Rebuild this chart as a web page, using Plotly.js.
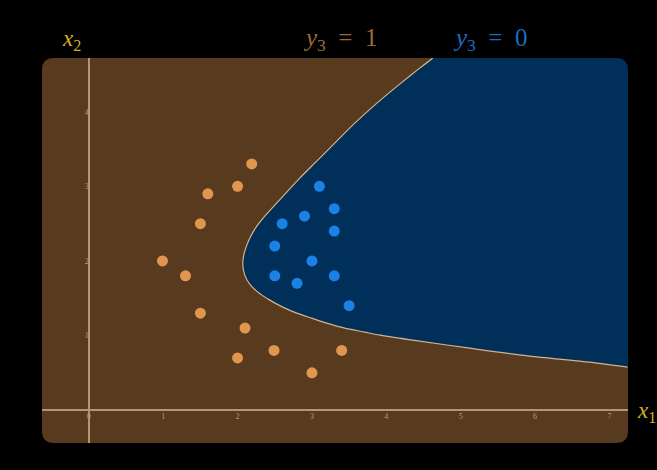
<!DOCTYPE html>
<html>
<head>
<meta charset="utf-8">
<script src="https://cdn.plot.ly/plotly-3.0.1.min.js"></script>
<style>html,body{margin:0;padding:0;background:#000;}#chart{width:657px;height:470px;}</style>
</head>
<body>
<div id="chart"></div>
<script>
// class y3 = 1 (orange)
const x1_class1 = [2.19, 2.00, 1.60, 1.50, 0.99, 1.30, 1.50, 2.10, 2.49, 2.00, 3.40, 3.00];
const x2_class1 = [3.30, 3.00, 2.90, 2.50, 2.00, 1.80, 1.30, 1.10, 0.80, 0.70, 0.80, 0.50];
// class y3 = 0 (blue)
const x1_class0 = [3.10, 3.30, 2.90, 2.60, 3.30, 2.50, 3.00, 2.50, 2.80, 3.30, 3.50];
const x2_class0 = [3.00, 2.70, 2.60, 2.50, 2.40, 2.20, 2.00, 1.80, 1.70, 1.80, 1.40];
// decision boundary
const bx = [4.624, 4.449, 4.180, 3.858, 3.562, 3.293, 3.051, 2.836, 2.661, 2.500, 2.366, 2.258, 2.177, 2.124, 2.083, 2.070,
            2.097, 2.164, 2.272, 2.433, 2.608, 2.796, 2.997, 3.199, 3.441, 3.710, 3.911, 4.449, 5.121, 5.927, 6.734, 7.245];
const by = [4.718, 4.584, 4.370, 4.102, 3.834, 3.566, 3.324, 3.110, 2.922, 2.748, 2.601, 2.466, 2.332, 2.212, 2.078, 1.944,
            1.810, 1.689, 1.582, 1.475, 1.381, 1.300, 1.233, 1.166, 1.099, 1.046, 1.005, 0.925, 0.831, 0.724, 0.643, 0.576];
const xTicks = [0, 1, 2, 3, 4, 5, 6, 7];
const yTicks = [1, 2, 3, 4];

const xr = [-0.63, 7.25], yr = [-0.44, 4.72];

const fillX = [4.75].concat(bx, [7.40, 7.40]);
const fillY = [4.85].concat(by, [0.56, 4.85]);

const traces = [
  {x: fillX, y: fillY, mode: 'lines', fill: 'toself', fillcolor: '#00305a',
   line: {width: 0, shape: 'spline', smoothing: 0.6}, hoverinfo: 'skip', showlegend: false},
  {x: bx, y: by, mode: 'lines', line: {color: '#d2b48c', width: 1.2, shape: 'spline', smoothing: 0.6},
   hoverinfo: 'skip', showlegend: false},
  {x: x1_class1, y: x2_class1, mode: 'markers', marker: {color: '#e0964f', size: 11},
   showlegend: false},
  {x: x1_class0, y: x2_class0, mode: 'markers', marker: {color: '#1a82e6', size: 11},
   showlegend: false}
];

const rx = 12/586, ry = 12/385;
const rr = `M ${rx},0 L ${1-rx},0 Q 1,0 1,${ry} L 1,${1-ry} Q 1,1 ${1-rx},1 L ${rx},1 Q 0,1 0,${1-ry} L 0,${ry} Q 0,0 ${rx},0 Z`;
const corner = `M 1,${1-ry} Q 1,1 ${1-rx},1 L 1.01,1.01 L 1.01,${1-ry} Z`;

const tickFont = {family: 'Liberation Serif', size: 8, color: '#b89a70'};
const layout = {
  width: 657, height: 470,
  margin: {l: 42, r: 29, t: 58, b: 27},
  paper_bgcolor: '#000', plot_bgcolor: 'rgba(0,0,0,0)',
  xaxis: {range: xr, showgrid: false, zeroline: true, zerolinecolor: '#b39672', zerolinewidth: 1.5,
          tickvals: xTicks, ticks: '', tickfont: tickFont, anchor: 'free', position: 0.44/5.16,
          showline: false, fixedrange: true},
  yaxis: {range: yr, showgrid: false, zeroline: true, zerolinecolor: '#b39672', zerolinewidth: 1.5,
          tickvals: yTicks, ticks: '', tickfont: tickFont, anchor: 'free', position: 0.63/7.88,
          showline: false, fixedrange: true},
  shapes: [
    {type: 'path', xref: 'paper', yref: 'paper', path: rr, fillcolor: '#583a1f', line: {width: 0}, layer: 'below'},
    {type: 'path', xref: 'paper', yref: 'paper', path: corner, fillcolor: '#000', line: {width: 0}, layer: 'above'}
  ],
  annotations: [
    {xref: 'paper', yref: 'paper', x: 0.051, y: 1.047, xanchor: 'center', yanchor: 'middle',
     text: '<i>x</i><sub>2</sub>', showarrow: false,
     font: {family: 'Liberation Serif', size: 23, color: '#d6b224'}},
    {xref: 'paper', yref: 'paper', x: 1.031, y: 0.08, xanchor: 'center', yanchor: 'middle',
     text: '<i>x</i><sub>1</sub>', showarrow: false,
     font: {family: 'Liberation Serif', size: 23, color: '#d6b224'}},
    {xref: 'paper', yref: 'paper', x: 0.509, y: 1.047, xanchor: 'center', yanchor: 'middle',
     text: '<i>y</i><sub>3</sub>&#8194;=&#8194;1', showarrow: false,
     font: {family: 'Liberation Serif', size: 25, color: '#9c6a36'}},
    {xref: 'paper', yref: 'paper', x: 0.765, y: 1.047, xanchor: 'center', yanchor: 'middle',
     text: '<i>y</i><sub>3</sub>&#8194;=&#8194;0', showarrow: false,
     font: {family: 'Liberation Serif', size: 25, color: '#1a6cc2'}}
  ]
};

Plotly.newPlot('chart', traces, layout, {displayModeBar: false, staticPlot: true});
</script>
</body>
</html>
